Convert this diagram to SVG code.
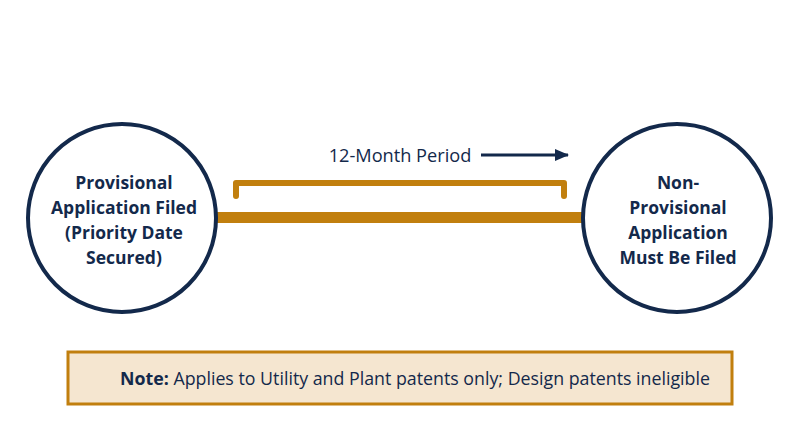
<svg xmlns="http://www.w3.org/2000/svg" width="800" height="447" viewBox="0 0 800 447">
<style>
text{font-family:"Open Sans","Liberation Sans",sans-serif;fill:#13294b}
.c{fill:#fff;stroke:#13294b;stroke-width:4}
.b{font-weight:bold;font-size:17.5px;text-anchor:middle}
</style>
<defs><marker id="ah" markerWidth="14" markerHeight="12" refX="13" refY="6" orient="auto" markerUnits="userSpaceOnUse"><path d="M0,0 L14,6 L0,12 z" fill="#13294b"/></marker></defs>
<rect width="800" height="447" fill="#fff"/>
<g id="connectors">
<rect x="212" y="212" width="376" height="11" fill="#c17f0e"/>
<path d="M236,196 V183 H564 V196" fill="none" stroke="#c17f0e" stroke-width="6" stroke-linecap="round" stroke-linejoin="round"/>
<line x1="481" y1="155" x2="568" y2="155" stroke="#13294b" stroke-width="3" marker-end="url(#ah)"/>
<text x="400" y="162" font-size="18.2" text-anchor="middle">12-Month Period</text>
</g>
<g id="left"><circle class="c" cx="122" cy="218" r="94"/>
<text class="b"><tspan x="124" y="189">Provisional</tspan><tspan x="124" y="214">Application Filed</tspan><tspan x="124" y="239">(Priority Date</tspan><tspan x="124" y="264">Secured)</tspan></text></g>
<g id="right"><circle class="c" cx="677" cy="218" r="94"/>
<text class="b"><tspan x="678" y="189">Non-</tspan><tspan x="678" y="214">Provisional</tspan><tspan x="678" y="239">Application</tspan><tspan x="678" y="264">Must Be Filed</tspan></text></g>
<g id="note"><rect x="68" y="352" width="664" height="52" fill="#f5e6d0" stroke="#c17f0e" stroke-width="3"/>
<text x="415" y="385" font-size="17.8" text-anchor="middle"><tspan font-weight="bold">Note:</tspan> Applies to Utility and Plant patents only; Design patents ineligible</text></g>
</svg>
